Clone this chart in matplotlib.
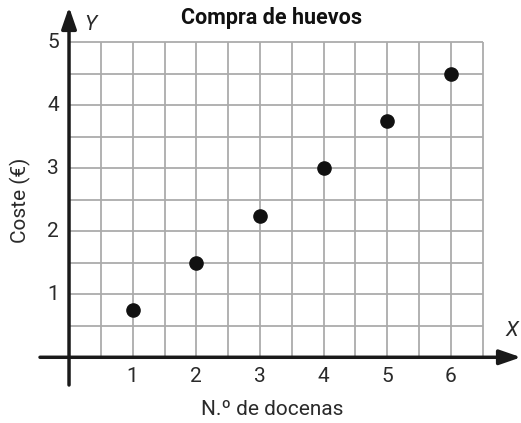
import numpy as np
import matplotlib
matplotlib.use("Agg")
import matplotlib.pyplot as plt

plt.rcParams['font.family'] = ['Roboto', 'DejaVu Sans']

# data
docenas = [1, 2, 3, 4, 5, 6]
coste = [0.75, 1.5, 2.25, 3.0, 3.75, 4.5]
x_ticks = [1, 2, 3, 4, 5, 6]
y_ticks = [1, 2, 3, 4, 5]
grid_x = np.arange(0.5, 6.51, 0.5)
grid_y = np.arange(0.5, 5.01, 0.5)

fig = plt.figure(figsize=(5.21, 4.23), dpi=100)
ax = fig.add_axes([40/521, 38/423, 481/521, 378/423])
ax.set_xlim(-0.456, 7.1)
ax.set_ylim(-0.44, 5.56)
ax.axis('off')

# grid
ax.vlines(grid_x, 0, 5, color='#ababab', lw=1.3, zorder=1)
ax.hlines(grid_y, 0, 6.5, color='#ababab', lw=1.3, zorder=1)

# axes with arrows
arrow = dict(arrowstyle='-|>,head_length=1.3,head_width=0.45',
             color='#1a1a1a', lw=2.5, shrinkA=0, shrinkB=0)
ax.annotate('', xy=(7.1, 0), xytext=(-0.456, 0), arrowprops=arrow, zorder=3)
ax.annotate('', xy=(0, 5.56), xytext=(0, -0.44), arrowprops=arrow, zorder=3)

ax.plot(docenas, coste, 'o', color='#111111', markersize=9.5, zorder=4)

for t in x_ticks:
    ax.text(t, -0.3, str(t), ha='center', va='center', fontsize=15, color='#2a2a2a')
for t in y_ticks:
    ax.text(-0.25, t, str(t), ha='center', va='center', fontsize=15, color='#2a2a2a')

ax.text(0.33, 5.28, 'Y', ha='center', va='center', fontsize=15, style='italic', color='#2a2a2a')
ax.text(6.95, 0.42, 'X', ha='center', va='center', fontsize=15, style='italic', color='#2a2a2a')

fig.text(272/521, 1 - 18/423, 'Compra de huevos', ha='center', va='center',
         fontsize=15.5, fontweight='bold', color='#111111')
fig.text(272/521, 1 - 409/423, 'N.º de docenas', ha='center', va='center',
         fontsize=15, color='#2a2a2a')
fig.text(20/521, 1 - 200/423, 'Coste (€)', ha='center', va='center',
         rotation=90, fontsize=15, color='#2a2a2a')

fig.savefig('out.png', dpi=100)
